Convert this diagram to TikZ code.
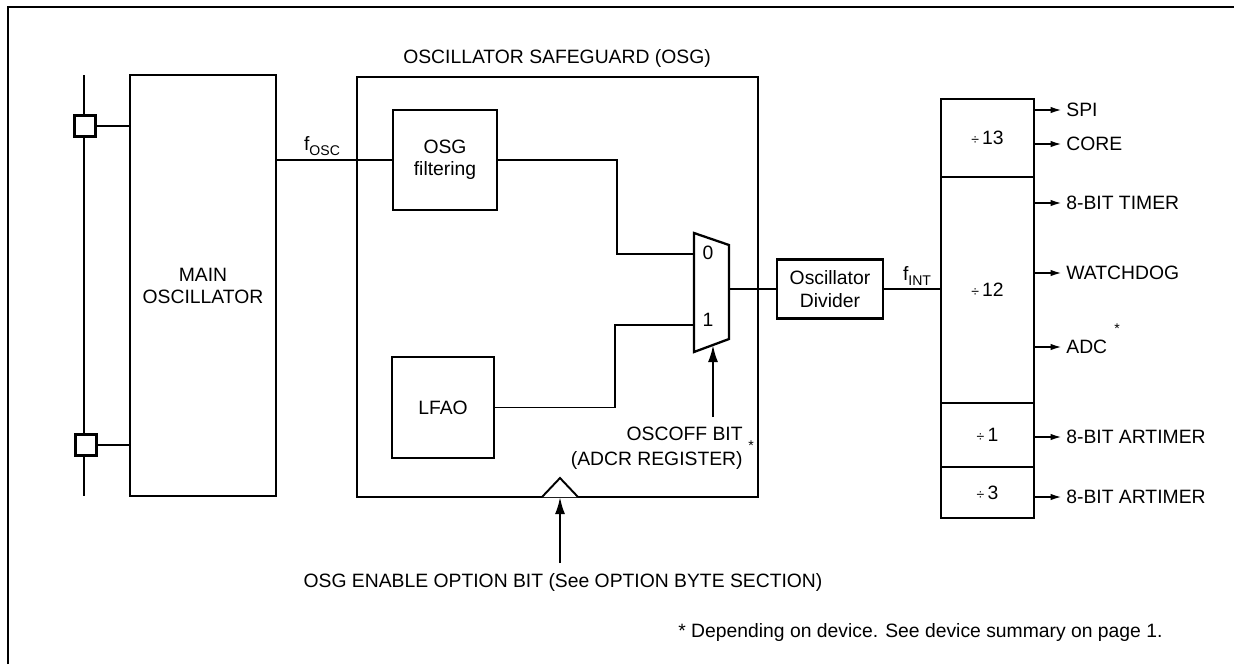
\documentclass[tikz,border=0pt]{standalone}
\usepackage{fontspec}
\setmainfont{Liberation Sans}
\usetikzlibrary{arrows.meta,positioning,calc}
\definecolor{Ink}{HTML}{000000}
\tikzset{block/.style={rectangle,draw=Ink,line width=1.4pt,inner sep=0pt,align=center,text=Ink},pinbox/.style={rectangle,draw=Ink,fill=white,line width=1.4pt,minimum size=0.42cm,inner sep=0pt},wire/.style={draw=Ink,line width=1pt},feed/.style={draw=Ink,line width=1pt,-{Latex[length=2.2mm,width=1.3mm]}},ctrl/.style={draw=Ink,line width=1.3pt,-{Latex[length=3.4mm,width=2mm]}},lbl/.style={text=Ink,inner sep=0pt,align=center},tiny/.style={text=Ink,inner sep=0pt,font=\fontsize{8}{9}\selectfont}}
\newcommand{\dv}{{\fontsize{8}{9}\selectfont ÷}\,}
\newcommand{\sub}[1]{\raisebox{-0.5ex}{\fontsize{8}{9}\selectfont #1}}

\begin{document}
\begin{tikzpicture}[x=0.02cm,y=-0.02cm,font=\fontsize{11}{12.5}\selectfont]
\useasboundingbox (0,0) rectangle (1234,664);
\draw[Ink,line width=1.6pt] (8,664) -- (8,7) -- (1234,7);
% oscillator side
\coordinate (bustop) at (84,75);\coordinate (busbot) at (84,496);\draw[wire,line width=1.2pt] (bustop) -- (busbot);
\node[block,minimum width=2.92cm,minimum height=8.42cm] (mainosc) at (203,285.5) {MAIN\\OSCILLATOR};
\node[pinbox] (pin1) at (85,126) {};\node[pinbox] (pin2) at (86,445) {};
\draw[wire] (pin1.east) -- (pin1.east -| mainosc.west);\draw[wire] (pin2.east) -- (pin2.east -| mainosc.west);
% safeguard
\node[block,minimum width=8.02cm,minimum height=8.4cm] (osg) at (557.5,287) {};
\node[lbl] (osgtitle) at (557,58) {OSCILLATOR SAFEGUARD (OSG)};
\node[block,minimum width=2.08cm,minimum height=2.0cm] (filt) at (445,160) {OSG\\filtering};
\node[block,minimum width=2.04cm,minimum height=2.02cm] (lfao) at (443,407.5) {LFAO};
\draw[Ink,line width=1.3pt] (694,233) -- (729,245) -- (729,339) -- (694,352) -- cycle;
\coordinate (in0) at (694,254);\coordinate (in1) at (694,325);\coordinate (muxout) at (729,289);\coordinate (sel) at (713,345);
\node[lbl] (bit0) at (708,253) {0};\node[lbl] (bit1) at (708,320) {1};
\draw[wire] (filt.west -| mainosc.east) -- (filt.west);\node[lbl] (fosc) at (322,146) {f\sub{OSC}};
\draw[wire] (filt.east) -| ($(in0)+(-77,0)$) -- (in0);
\draw[wire] (lfao.east) -| ($(in1)+(-79,0)$) -- (in1);
\coordinate (selfoot) at (713,417);\draw[ctrl] (selfoot) -- (sel);
\node[lbl,align=right,anchor=east] (oscoff) at (743,448) {OSCOFF BIT\\[1.5pt](ADCR REGISTER)};\node[tiny] (offstar) at (751,446) {*};
\draw[Ink,line width=1.1pt,fill=white] (542,497) -- (560,478) -- (578,497);
\coordinate (tri) at (560,497);\coordinate (enfoot) at (560,563);\draw[ctrl] (enfoot) -- (tri);
\node[lbl] (enable) at (563,582) {OSG ENABLE OPTION BIT (See OPTION BYTE SECTION)};
% divider chain
\node[block,minimum width=2.12cm,minimum height=1.18cm] (divider) at (830,289) {Oscillator\\[1pt]Divider};
\draw[wire] (muxout) -- (muxout -| divider.west);
\node[block,minimum width=1.86cm,minimum height=1.56cm] (d13) at (987.5,138) {\dv13};
\node[block,minimum width=1.86cm,minimum height=4.52cm] (d12) at (987.5,290) {\dv12};
\node[block,minimum width=1.86cm,minimum height=1.28cm] (d1) at (987.5,435) {\dv1};
\node[block,minimum width=1.86cm,minimum height=1.02cm] (d3) at (987.5,492.5) {\dv3};
\draw[wire] (divider.east) -- (divider.east -| d12.west);\node[lbl] (fint) at (917,276) {f\sub{INT}};
\foreach \yy/\txt/\nm in {110/SPI/spi,144/CORE/core,203/8-BIT TIMER/timer,273/WATCHDOG/wdg,347/ADC/adc,437/8-BIT ARTIMER/artA,497/8-BIT ARTIMER/artB}{\node[lbl,anchor=west] (\nm) at (1066,\yy) {\txt};\draw[feed] (\nm.west -| d13.east) -- ([xshift=-2.5pt]\nm.west);}
\node[tiny] (adcstar) at (1117,329) {*};
\node[lbl,anchor=west] (note) at (678,632) {* Depending on device. See device summary on page 1.};
\end{tikzpicture}
\end{document}
